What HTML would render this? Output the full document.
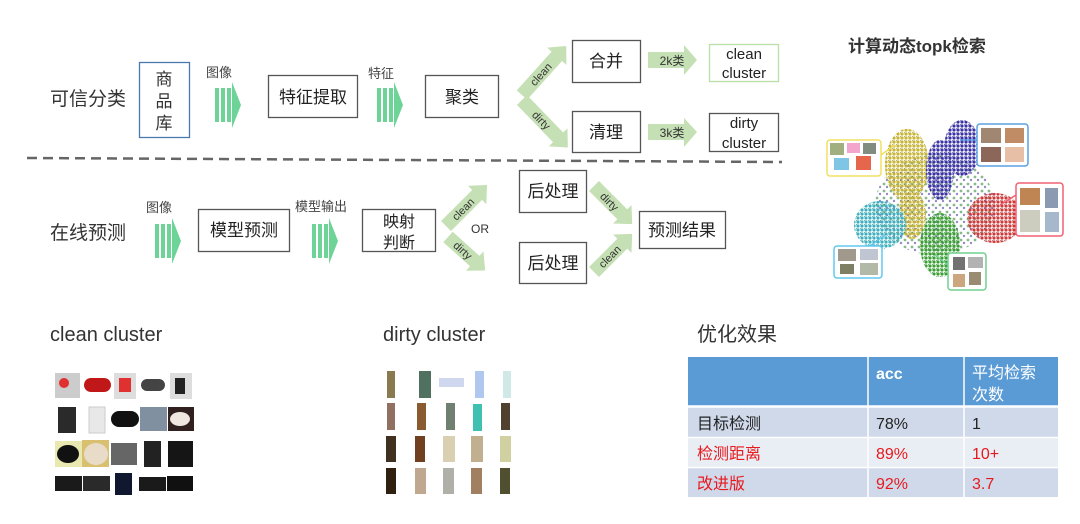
<!DOCTYPE html>
<html><head><meta charset="utf-8"><style>
body{margin:0;background:#fff;width:1080px;height:524px;overflow:hidden}
svg{display:block}
text{font-family:"Liberation Sans","Noto Sans CJK SC",sans-serif}
</style></head><body>
<svg width="1080" height="524" viewBox="0 0 1080 524" xmlns="http://www.w3.org/2000/svg">
<defs>
<g id="sa"><rect x="0" y="6" width="4" height="34" fill="#6dd396"/><rect x="6" y="6" width="4" height="34" fill="#6dd396"/><rect x="12" y="6" width="4" height="34" fill="#6dd396"/><polygon points="17,0 26,23 17,46" fill="#6dd396"/></g>
<pattern id="py" width="4" height="4" patternUnits="userSpaceOnUse"><circle cx="2" cy="2" r="1.6" fill="#c8b430"/><circle cx="0" cy="0" r="0.8" fill="#6a6a30"/></pattern>
<pattern id="pp" width="4" height="4" patternUnits="userSpaceOnUse"><circle cx="2" cy="2" r="1.6" fill="#3a30a8"/><circle cx="0" cy="0" r="0.8" fill="#20206a"/></pattern>
<pattern id="pc" width="4" height="4" patternUnits="userSpaceOnUse"><circle cx="2" cy="2" r="1.6" fill="#3cb0c0"/><circle cx="0" cy="0" r="0.8" fill="#206a70"/></pattern>
<pattern id="pr" width="4" height="4" patternUnits="userSpaceOnUse"><circle cx="2" cy="2" r="1.6" fill="#d03838"/><circle cx="0" cy="0" r="0.8" fill="#802020"/></pattern>
<pattern id="pg" width="4" height="4" patternUnits="userSpaceOnUse"><circle cx="2" cy="2" r="1.6" fill="#38a030"/><circle cx="0" cy="0" r="0.8" fill="#1c601c"/></pattern>
<pattern id="pm" width="7" height="7" patternUnits="userSpaceOnUse"><circle cx="2" cy="2" r="1.4" fill="#3a8a40"/><circle cx="5" cy="5" r="1.2" fill="#4a40a0"/></pattern>
</defs>

<!-- top row -->
<text x="50" y="105" font-size="19" fill="#333">可信分类</text>
<rect x="139.5" y="62.5" width="50" height="75" fill="#fff" stroke="#4a78b0" stroke-width="1.3"/>
<text x="164" y="85" font-size="17" text-anchor="middle" fill="#333">商</text>
<text x="164" y="107" font-size="17" text-anchor="middle" fill="#333">品</text>
<text x="164" y="129" font-size="17" text-anchor="middle" fill="#333">库</text>
<text x="206" y="77" font-size="13" fill="#444">图像</text>
<use href="#sa" x="215" y="82"/>
<rect x="268.5" y="75.5" width="89" height="42" fill="#fff" stroke="#555" stroke-width="1.3"/>
<text x="313" y="103" font-size="17" text-anchor="middle" fill="#222">特征提取</text>
<text x="368" y="78" font-size="13" fill="#444">特征</text>
<use href="#sa" x="377" y="82"/>
<rect x="425.5" y="75.5" width="73" height="42" fill="#fff" stroke="#555" stroke-width="1.3"/>
<text x="462" y="103" font-size="17" text-anchor="middle" fill="#222">聚类</text>

<g transform="translate(522,95) rotate(-48)"><polygon points="0,-7 52,-7 52,-13 66,0 52,13 52,7 0,7" fill="#c5e0b4"/><text x="28" y="4" font-size="11" text-anchor="middle" fill="#333">clean</text></g>
<g transform="translate(522,100) rotate(46)"><polygon points="0,-7 52,-7 52,-13 66,0 52,13 52,7 0,7" fill="#c5e0b4"/><text x="28" y="4" font-size="11" text-anchor="middle" fill="#333">dirty</text></g>

<rect x="572.5" y="40.5" width="68" height="42" fill="#fff" stroke="#555" stroke-width="1.3"/>
<text x="606" y="67" font-size="17" text-anchor="middle" fill="#222">合并</text>
<polygon points="648,52 684,52 684,45 697,60 684,75 684,68 648,68" fill="#c5e0b4"/>
<text x="672" y="65" font-size="12" text-anchor="middle" fill="#333">2k类</text>
<rect x="709.5" y="44.5" width="69" height="37" fill="#fff" stroke="#b9e0a5" stroke-width="1.3"/>
<text x="744" y="59" font-size="15" text-anchor="middle" fill="#222">clean</text>
<text x="744" y="78" font-size="15" text-anchor="middle" fill="#222">cluster</text>

<rect x="572.5" y="111.5" width="68" height="41" fill="#fff" stroke="#555" stroke-width="1.3"/>
<text x="606" y="138" font-size="17" text-anchor="middle" fill="#222">清理</text>
<polygon points="648,124 684,124 684,118 697,132 684,147 684,140 648,140" fill="#c5e0b4"/>
<text x="672" y="137" font-size="12" text-anchor="middle" fill="#333">3k类</text>
<rect x="709.5" y="113.5" width="69" height="38" fill="#fff" stroke="#555" stroke-width="1.3"/>
<text x="744" y="128" font-size="15" text-anchor="middle" fill="#222">dirty</text>
<text x="744" y="148" font-size="15" text-anchor="middle" fill="#222">cluster</text>

<line x1="27" y1="158" x2="782" y2="162" stroke="#666" stroke-width="2.5" stroke-dasharray="10,6"/>

<!-- bottom row -->
<text x="50" y="239" font-size="19" fill="#333">在线预测</text>
<text x="146" y="212" font-size="13" fill="#444">图像</text>
<use href="#sa" x="155" y="218"/>
<rect x="198.5" y="209.5" width="91" height="42" fill="#fff" stroke="#555" stroke-width="1.3"/>
<text x="244" y="236" font-size="17" text-anchor="middle" fill="#222">模型预测</text>
<text x="295" y="211" font-size="13" fill="#444">模型输出</text>
<use href="#sa" x="312" y="218"/>
<rect x="362.5" y="209.5" width="73" height="42" fill="#fff" stroke="#555" stroke-width="1.3"/>
<text x="399" y="227" font-size="16" text-anchor="middle" fill="#222">映射</text>
<text x="399" y="248" font-size="16" text-anchor="middle" fill="#222">判断</text>
<g transform="translate(446,226) rotate(-45)"><polygon points="0,-7 44,-7 44,-13 58,0 44,13 44,7 0,7" fill="#c5e0b4"/><text x="24" y="4" font-size="11" text-anchor="middle" fill="#333">clean</text></g>
<text x="480" y="233" font-size="12" text-anchor="middle" fill="#333">OR</text>
<g transform="translate(448,237) rotate(42)"><polygon points="0,-7 36,-7 36,-13 50,0 36,13 36,7 0,7" fill="#c5e0b4"/><text x="20" y="4" font-size="11" text-anchor="middle" fill="#333">dirty</text></g>

<rect x="519.5" y="170.5" width="67" height="42" fill="#fff" stroke="#555" stroke-width="1.3"/>
<text x="553" y="197" font-size="17" text-anchor="middle" fill="#222">后处理</text>
<rect x="519.5" y="242.5" width="67" height="41" fill="#fff" stroke="#555" stroke-width="1.3"/>
<text x="553" y="269" font-size="17" text-anchor="middle" fill="#222">后处理</text>
<g transform="translate(594,186) rotate(45)"><polygon points="0,-7 40,-7 40,-13 54,0 40,13 40,7 0,7" fill="#c5e0b4"/><text x="22" y="4" font-size="11" text-anchor="middle" fill="#333">dirty</text></g>
<g transform="translate(594,272) rotate(-45)"><polygon points="0,-7 40,-7 40,-13 54,0 40,13 40,7 0,7" fill="#c5e0b4"/><text x="22" y="4" font-size="11" text-anchor="middle" fill="#333">clean</text></g>
<rect x="639.5" y="211.5" width="86" height="37" fill="#fff" stroke="#555" stroke-width="1.3"/>
<text x="682" y="236" font-size="17" text-anchor="middle" fill="#222">预测结果</text>

<!-- scatter -->
<text x="848" y="52" font-size="17" font-weight="bold" fill="#333">计算动态topk检索</text>
<g>
<ellipse cx="935" cy="205" rx="60" ry="50" fill="url(#pm)" opacity="0.6"/>
<ellipse cx="907" cy="165" rx="22" ry="36" fill="url(#py)"/>
<ellipse cx="912" cy="215" rx="14" ry="24" fill="url(#py)"/>
<ellipse cx="940" cy="170" rx="14" ry="30" fill="url(#pp)"/>
<ellipse cx="962" cy="148" rx="18" ry="28" fill="url(#pp)"/>
<ellipse cx="880" cy="225" rx="26" ry="24" fill="url(#pc)"/>
<ellipse cx="995" cy="218" rx="28" ry="25" fill="url(#pr)"/>
<ellipse cx="940" cy="245" rx="20" ry="32" fill="url(#pg)"/>
</g>
<g fill="#fff" stroke-width="1.5">
<line x1="881" y1="155" x2="895" y2="145" stroke="#f0e060"/>
<rect x="827" y="140" width="54" height="36" rx="3" stroke="#f0e060"/>
<line x1="977" y1="140" x2="960" y2="140" stroke="#5aa0e0"/>
<rect x="977" y="124" width="51" height="42" rx="3" stroke="#5aa0e0"/>
<line x1="1016" y1="195" x2="1000" y2="205" stroke="#f06070"/>
<rect x="1016" y="183" width="47" height="53" rx="3" stroke="#f06070"/>
<line x1="870" y1="246" x2="885" y2="235" stroke="#60c8f0"/>
<rect x="834" y="246" width="48" height="32" rx="3" stroke="#60c8f0"/>
<line x1="948" y1="265" x2="935" y2="255" stroke="#70d090"/>
<rect x="948" y="253" width="38" height="37" rx="3" stroke="#70d090"/>
</g>
<g opacity="0.8">
<rect x="830" y="143" width="14" height="12" fill="#8a9a60"/><rect x="847" y="143" width="13" height="10" fill="#f090c0"/><rect x="863" y="143" width="13" height="11" fill="#607060"/>
<rect x="834" y="158" width="15" height="12" fill="#60b8e0"/><rect x="856" y="156" width="15" height="14" fill="#e04020"/>
<rect x="981" y="128" width="20" height="15" fill="#8a6a50"/><rect x="1005" y="128" width="19" height="15" fill="#b07040"/>
<rect x="981" y="147" width="20" height="15" fill="#704030"/><rect x="1005" y="147" width="19" height="15" fill="#e0b090"/>
<rect x="1020" y="188" width="20" height="17" fill="#b0682a"/><rect x="1045" y="188" width="13" height="20" fill="#7080a0"/>
<rect x="1020" y="210" width="20" height="22" fill="#c0c0b0"/><rect x="1045" y="212" width="14" height="20" fill="#90a8c0"/>
<rect x="838" y="249" width="18" height="12" fill="#8a8070"/><rect x="860" y="249" width="18" height="11" fill="#b0b8c8"/>
<rect x="840" y="264" width="14" height="10" fill="#606040"/><rect x="860" y="263" width="18" height="12" fill="#a0a890"/>
<rect x="953" y="257" width="12" height="13" fill="#505050"/><rect x="968" y="257" width="15" height="11" fill="#a0a0a0"/>
<rect x="953" y="274" width="12" height="13" fill="#c09060"/><rect x="969" y="272" width="12" height="13" fill="#807050"/>
</g>

<!-- bottom section -->
<text x="50" y="341" font-size="20" fill="#333">clean cluster</text>
<text x="383" y="341" font-size="20" fill="#333">dirty cluster</text>
<text x="697" y="341" font-size="20" fill="#333">优化效果</text>

<g>
<rect x="55" y="373" width="25" height="25" fill="#ccc"/><circle cx="64" cy="383" r="5" fill="#e03030"/>
<rect x="84" y="378" width="27" height="14" rx="7" fill="#c01818"/>
<rect x="114" y="373" width="22" height="26" fill="#ddd"/><rect x="119" y="378" width="12" height="14" fill="#e03030"/>
<rect x="141" y="379" width="24" height="12" rx="6" fill="#444"/>
<rect x="170" y="373" width="22" height="26" fill="#ddd"/><rect x="175" y="378" width="10" height="16" fill="#222"/>
<rect x="58" y="407" width="18" height="26" fill="#2a2a2a"/>
<rect x="89" y="407" width="16" height="26" fill="#e8e8e8" stroke="#ccc"/>
<rect x="111" y="411" width="28" height="16" rx="8" fill="#111"/>
<rect x="140" y="407" width="27" height="24" fill="#8090a0"/>
<rect x="168" y="407" width="26" height="24" fill="#302020"/><ellipse cx="180" cy="419" rx="10" ry="7" fill="#f0e8e0"/>
<rect x="55" y="441" width="27" height="26" fill="#e8e8b0"/><ellipse cx="68" cy="454" rx="11" ry="9" fill="#111"/>
<rect x="82" y="440" width="27" height="27" fill="#d8c070"/><ellipse cx="96" cy="454" rx="12" ry="11" fill="#e8dcc8"/>
<rect x="111" y="443" width="26" height="22" fill="#666"/>
<rect x="144" y="441" width="17" height="26" fill="#222"/>
<rect x="168" y="441" width="25" height="26" fill="#151515"/>
<rect x="55" y="476" width="27" height="15" fill="#1a1a1a"/>
<rect x="83" y="476" width="27" height="15" fill="#2a2a2a"/>
<rect x="115" y="473" width="17" height="22" fill="#101830"/>
<rect x="139" y="477" width="27" height="14" fill="#1a1a1a"/>
<rect x="167" y="476" width="26" height="15" fill="#101010"/>
</g>
<g>
<rect x="387" y="371" width="8" height="27" fill="#8a7a50"/><rect x="419" y="371" width="12" height="27" fill="#507060"/><rect x="439" y="378" width="25" height="9" fill="#d0d8f0"/><rect x="475" y="371" width="9" height="27" fill="#b0c8f0"/><rect x="503" y="371" width="8" height="27" fill="#d0e8e8"/>
<rect x="387" y="403" width="8" height="27" fill="#907060"/><rect x="417" y="403" width="9" height="27" fill="#8a5a30"/><rect x="446" y="403" width="9" height="27" fill="#708070"/><rect x="473" y="404" width="9" height="27" fill="#40c0b0"/><rect x="501" y="403" width="9" height="27" fill="#504030"/>
<rect x="386" y="436" width="10" height="26" fill="#403020"/><rect x="415" y="436" width="10" height="26" fill="#704020"/><rect x="443" y="436" width="12" height="26" fill="#d8d0b0"/><rect x="471" y="436" width="12" height="26" fill="#c0b090"/><rect x="500" y="436" width="11" height="26" fill="#d0d0a0"/>
<rect x="386" y="468" width="10" height="26" fill="#302010"/><rect x="415" y="468" width="11" height="26" fill="#c0a890"/><rect x="443" y="468" width="11" height="26" fill="#b0b0a8"/><rect x="471" y="468" width="11" height="26" fill="#a08060"/><rect x="500" y="468" width="10" height="26" fill="#505030"/>
</g>

<rect x="688" y="357" width="370" height="140" fill="#e9edf4"/>
<rect x="688" y="357" width="370" height="49" fill="#5b9bd5"/>
<rect x="688" y="407" width="370" height="30" fill="#cfd9ea"/>
<rect x="688" y="468" width="370" height="29" fill="#cfd9ea"/>
<g stroke="#fff" stroke-width="1.5"><line x1="868" y1="357" x2="868" y2="497"/><line x1="964" y1="357" x2="964" y2="497"/><line x1="688" y1="406.5" x2="1058" y2="406.5" stroke-width="2.5"/><line x1="688" y1="437.5" x2="1058" y2="437.5"/><line x1="688" y1="467.5" x2="1058" y2="467.5"/></g>
<text x="876" y="379" font-size="16" font-weight="bold" fill="#fff">acc</text>
<text x="972" y="378" font-size="16" fill="#fff">平均检索</text>
<text x="972" y="400" font-size="16" fill="#fff">次数</text>
<text x="697" y="429" font-size="16" fill="#222">目标检测</text>
<text x="876" y="429" font-size="16" fill="#222">78%</text>
<text x="972" y="429" font-size="16" fill="#222">1</text>
<text x="697" y="459" font-size="16" fill="#e8191c">检测距离</text>
<text x="876" y="459" font-size="16" fill="#e8191c">89%</text>
<text x="972" y="459" font-size="16" fill="#e8191c">10+</text>
<text x="697" y="489" font-size="16" fill="#e8191c">改进版</text>
<text x="876" y="489" font-size="16" fill="#e8191c">92%</text>
<text x="972" y="489" font-size="16" fill="#e8191c">3.7</text>
</svg>
</body></html>
